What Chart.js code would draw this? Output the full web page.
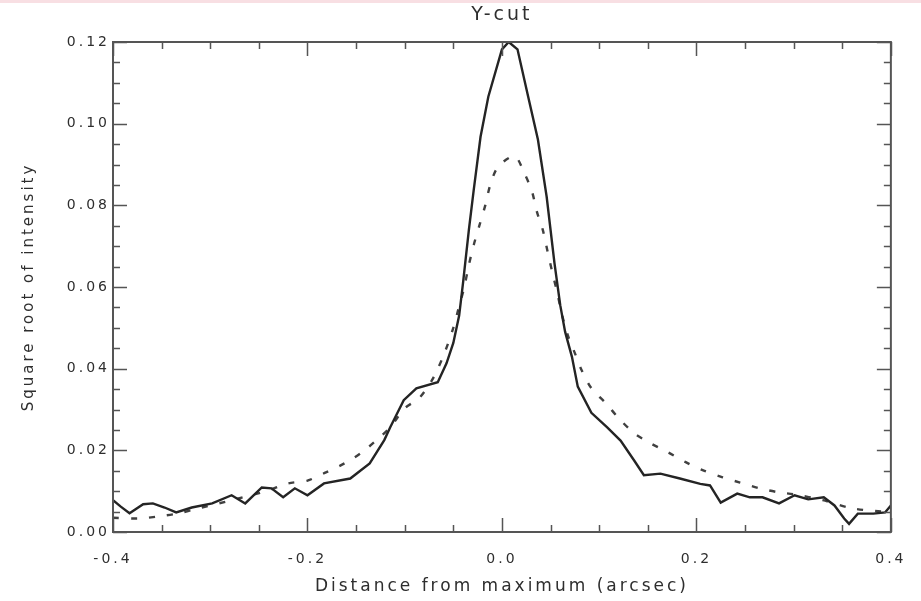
<!DOCTYPE html>
<html>
<head>
<meta charset="utf-8">
<title>Y-cut</title>
<script src="https://cdn.jsdelivr.net/npm/chart.js@4.4.1/dist/chart.umd.min.js"></script>
<style>
  html, body { margin: 0; padding: 0; background: #fff; }
  canvas { display: block; }
</style>
</head>
<body>
<canvas id="cutChart" width="921" height="601"></canvas>
<script>
// solid profile
const solidX = [-0.400, -0.392, -0.383, -0.369, -0.359, -0.347, -0.335, -0.319, -0.298, -0.278,
    -0.264, -0.247, -0.237, -0.225, -0.213, -0.200, -0.183, -0.156, -0.136, -0.121,
    -0.115, -0.101, -0.088, -0.066, -0.057, -0.050, -0.044, -0.040, -0.034, -0.029,
    -0.022, -0.014, 0.000, 0.007, 0.016, 0.027, 0.037, 0.046, 0.054, 0.060,
    0.065, 0.072, 0.078, 0.092, 0.108, 0.122, 0.136, 0.146, 0.163, 0.183,
    0.204, 0.214, 0.225, 0.242, 0.255, 0.268, 0.285, 0.301, 0.315, 0.331,
    0.342, 0.352, 0.357, 0.366, 0.382, 0.394, 0.400];
const solidY = [0.0078, 0.0062, 0.0046, 0.0068, 0.0070, 0.0060, 0.0048, 0.0060, 0.0070, 0.0090,
    0.0070, 0.0109, 0.0107, 0.0085, 0.0107, 0.0090, 0.0119, 0.0131, 0.0168, 0.0225,
    0.0256, 0.0323, 0.0352, 0.0367, 0.0413, 0.0463, 0.0530, 0.0610, 0.0740, 0.0838,
    0.0968, 0.1066, 0.1182, 0.1200, 0.1182, 0.1066, 0.0961, 0.0821, 0.0659, 0.0555,
    0.0490, 0.0429, 0.0356, 0.0292, 0.0257, 0.0224, 0.0175, 0.0139, 0.0143, 0.0131,
    0.0118, 0.0114, 0.0072, 0.0094, 0.0085, 0.0085, 0.0070, 0.0090, 0.0080, 0.0085,
    0.0065, 0.0033, 0.0020, 0.0045, 0.0045, 0.0048, 0.0065];

// dashed profile
const dashedX = [-0.400, -0.373, -0.354, -0.334, -0.312, -0.271, -0.240, -0.220, -0.200, -0.181,
    -0.162, -0.144, -0.129, -0.115, -0.100, -0.085, -0.070, -0.058, -0.050, -0.045,
    -0.039, -0.034, -0.029, -0.023, -0.017, -0.012, -0.004, 0.013, 0.023, 0.031,
    0.036, 0.042, 0.047, 0.052, 0.057, 0.062, 0.068, 0.075, 0.082, 0.092,
    0.107, 0.120, 0.136, 0.153, 0.171, 0.189, 0.207, 0.227, 0.245, 0.265,
    0.285, 0.301, 0.330, 0.360, 0.400];
const dashedY = [0.0035, 0.0033, 0.0038, 0.0045, 0.0058, 0.0082, 0.0102, 0.0119, 0.0126, 0.0146,
    0.0168, 0.0195, 0.0225, 0.0256, 0.0303, 0.0328, 0.0380, 0.0445, 0.0500, 0.0544,
    0.0597, 0.0654, 0.0703, 0.0752, 0.0801, 0.0850, 0.0894, 0.0920, 0.0879, 0.0833,
    0.0784, 0.0740, 0.0686, 0.0634, 0.0585, 0.0530, 0.0480, 0.0438, 0.0396, 0.0352,
    0.0315, 0.0279, 0.0242, 0.0217, 0.0195, 0.0171, 0.0151, 0.0134, 0.0121, 0.0107,
    0.0097, 0.0092, 0.0078, 0.0058, 0.0048];

const xTicks = [-0.4, -0.2, 0.0, 0.2, 0.4];
const yTicks = [0.00, 0.02, 0.04, 0.06, 0.08, 0.10, 0.12];

const toPoints = (xs, ys) => xs.map((x, i) => ({ x: x, y: ys[i] }));

const axisColor = '#555';
const textColor = '#2e2e2e';
const fontFamily = '"DejaVu Sans", sans-serif';

// IDL-style box with inward ticks on all four sides
const boxPlugin = {
    id: 'idlBox',
    beforeDraw(chart) {
        const ctx = chart.ctx;
        ctx.save();
        ctx.fillStyle = '#fff';
        ctx.fillRect(0, 0, chart.width, chart.height);
        ctx.fillStyle = '#f8dfe3';
        ctx.fillRect(0, 0, chart.width, 3);
        ctx.restore();
        // wide spacing like the Hershey font
        ctx.letterSpacing = '3px';
    },
    afterDatasetsDraw(chart) {
        const { ctx, chartArea: a, scales: { x, y } } = chart;
        ctx.save();
        ctx.strokeStyle = axisColor;
        ctx.lineWidth = 2;
        ctx.strokeRect(a.left, a.top, a.right - a.left, a.bottom - a.top);
        ctx.lineWidth = 1.5;
        ctx.beginPath();
        for (let i = 0; i <= 16; i++) {
            const v = -0.4 + i * 0.05;
            const len = i % 4 === 0 ? 14 : 7;
            const px = Math.round(x.getPixelForValue(v)) + 0.5;
            ctx.moveTo(px, a.bottom); ctx.lineTo(px, a.bottom - len);
            ctx.moveTo(px, a.top); ctx.lineTo(px, a.top + len);
        }
        for (let i = 0; i <= 24; i++) {
            const v = i * 0.005;
            const len = i % 4 === 0 ? 14 : 7;
            const py = Math.round(y.getPixelForValue(v)) + 0.5;
            ctx.moveTo(a.left, py); ctx.lineTo(a.left + len, py);
            ctx.moveTo(a.right, py); ctx.lineTo(a.right - len, py);
        }
        ctx.stroke();
        ctx.restore();
    }
};

new Chart(document.getElementById('cutChart').getContext('2d'), {
    type: 'line',
    data: {
        datasets: [
            {
                label: 'solid',
                data: toPoints(solidX, solidY),
                borderColor: '#242424',
                borderWidth: 2.4,
                pointRadius: 0,
                tension: 0,
                fill: false
            },
            {
                label: 'dashed',
                data: toPoints(dashedX, dashedY),
                borderColor: '#404040',
                borderWidth: 2.4,
                borderDash: [6, 12],
                pointRadius: 0,
                tension: 0.3,
                fill: false
            }
        ]
    },
    options: {
        responsive: false,
        animation: false,
        events: [],
        layout: { padding: { top: 0, right: 21, bottom: 0, left: 0 } },
        plugins: {
            legend: { display: false },
            tooltip: { enabled: false },
            title: {
                display: true,
                text: 'Y-cut',
                fullSize: false,
                color: textColor,
                font: { family: fontFamily, size: 19, weight: 'normal', lineHeight: 1.2 },
                padding: { top: 4, bottom: 15.2 }
            }
        },
        scales: {
            x: {
                type: 'linear',
                min: -0.4,
                max: 0.4,
                afterFit: (s) => { s.height = 69; },
                afterBuildTicks: (s) => { s.ticks = xTicks.map(v => ({ value: v })); },
                grid: { display: false, drawTicks: false },
                border: { display: false },
                ticks: {
                    color: textColor,
                    padding: 19,
                    maxRotation: 0,
                    font: { family: fontFamily, size: 14 },
                    callback: (v) => v.toFixed(1)
                },
                title: {
                    display: true,
                    text: 'Distance from maximum (arcsec)',
                    color: textColor,
                    font: { family: fontFamily, size: 17, lineHeight: 1.2 },
                    padding: { top: 0, bottom: 4 }
                }
            },
            y: {
                type: 'linear',
                min: 0,
                max: 0.12,
                afterFit: (s) => { s.width = 113; },
                afterBuildTicks: (s) => { s.ticks = yTicks.map(v => ({ value: v })); },
                grid: { display: false, drawTicks: false },
                border: { display: false },
                ticks: {
                    color: textColor,
                    padding: 3,
                    font: { family: fontFamily, size: 14 },
                    callback: (v) => v.toFixed(2)
                },
                title: {
                    display: true,
                    text: 'Square root of intensity',
                    color: textColor,
                    font: { family: fontFamily, size: 15, lineHeight: 1.2 },
                    padding: { top: 20, bottom: 0 }
                }
            }
        }
    },
    plugins: [boxPlugin]
});
</script>
</body>
</html>
